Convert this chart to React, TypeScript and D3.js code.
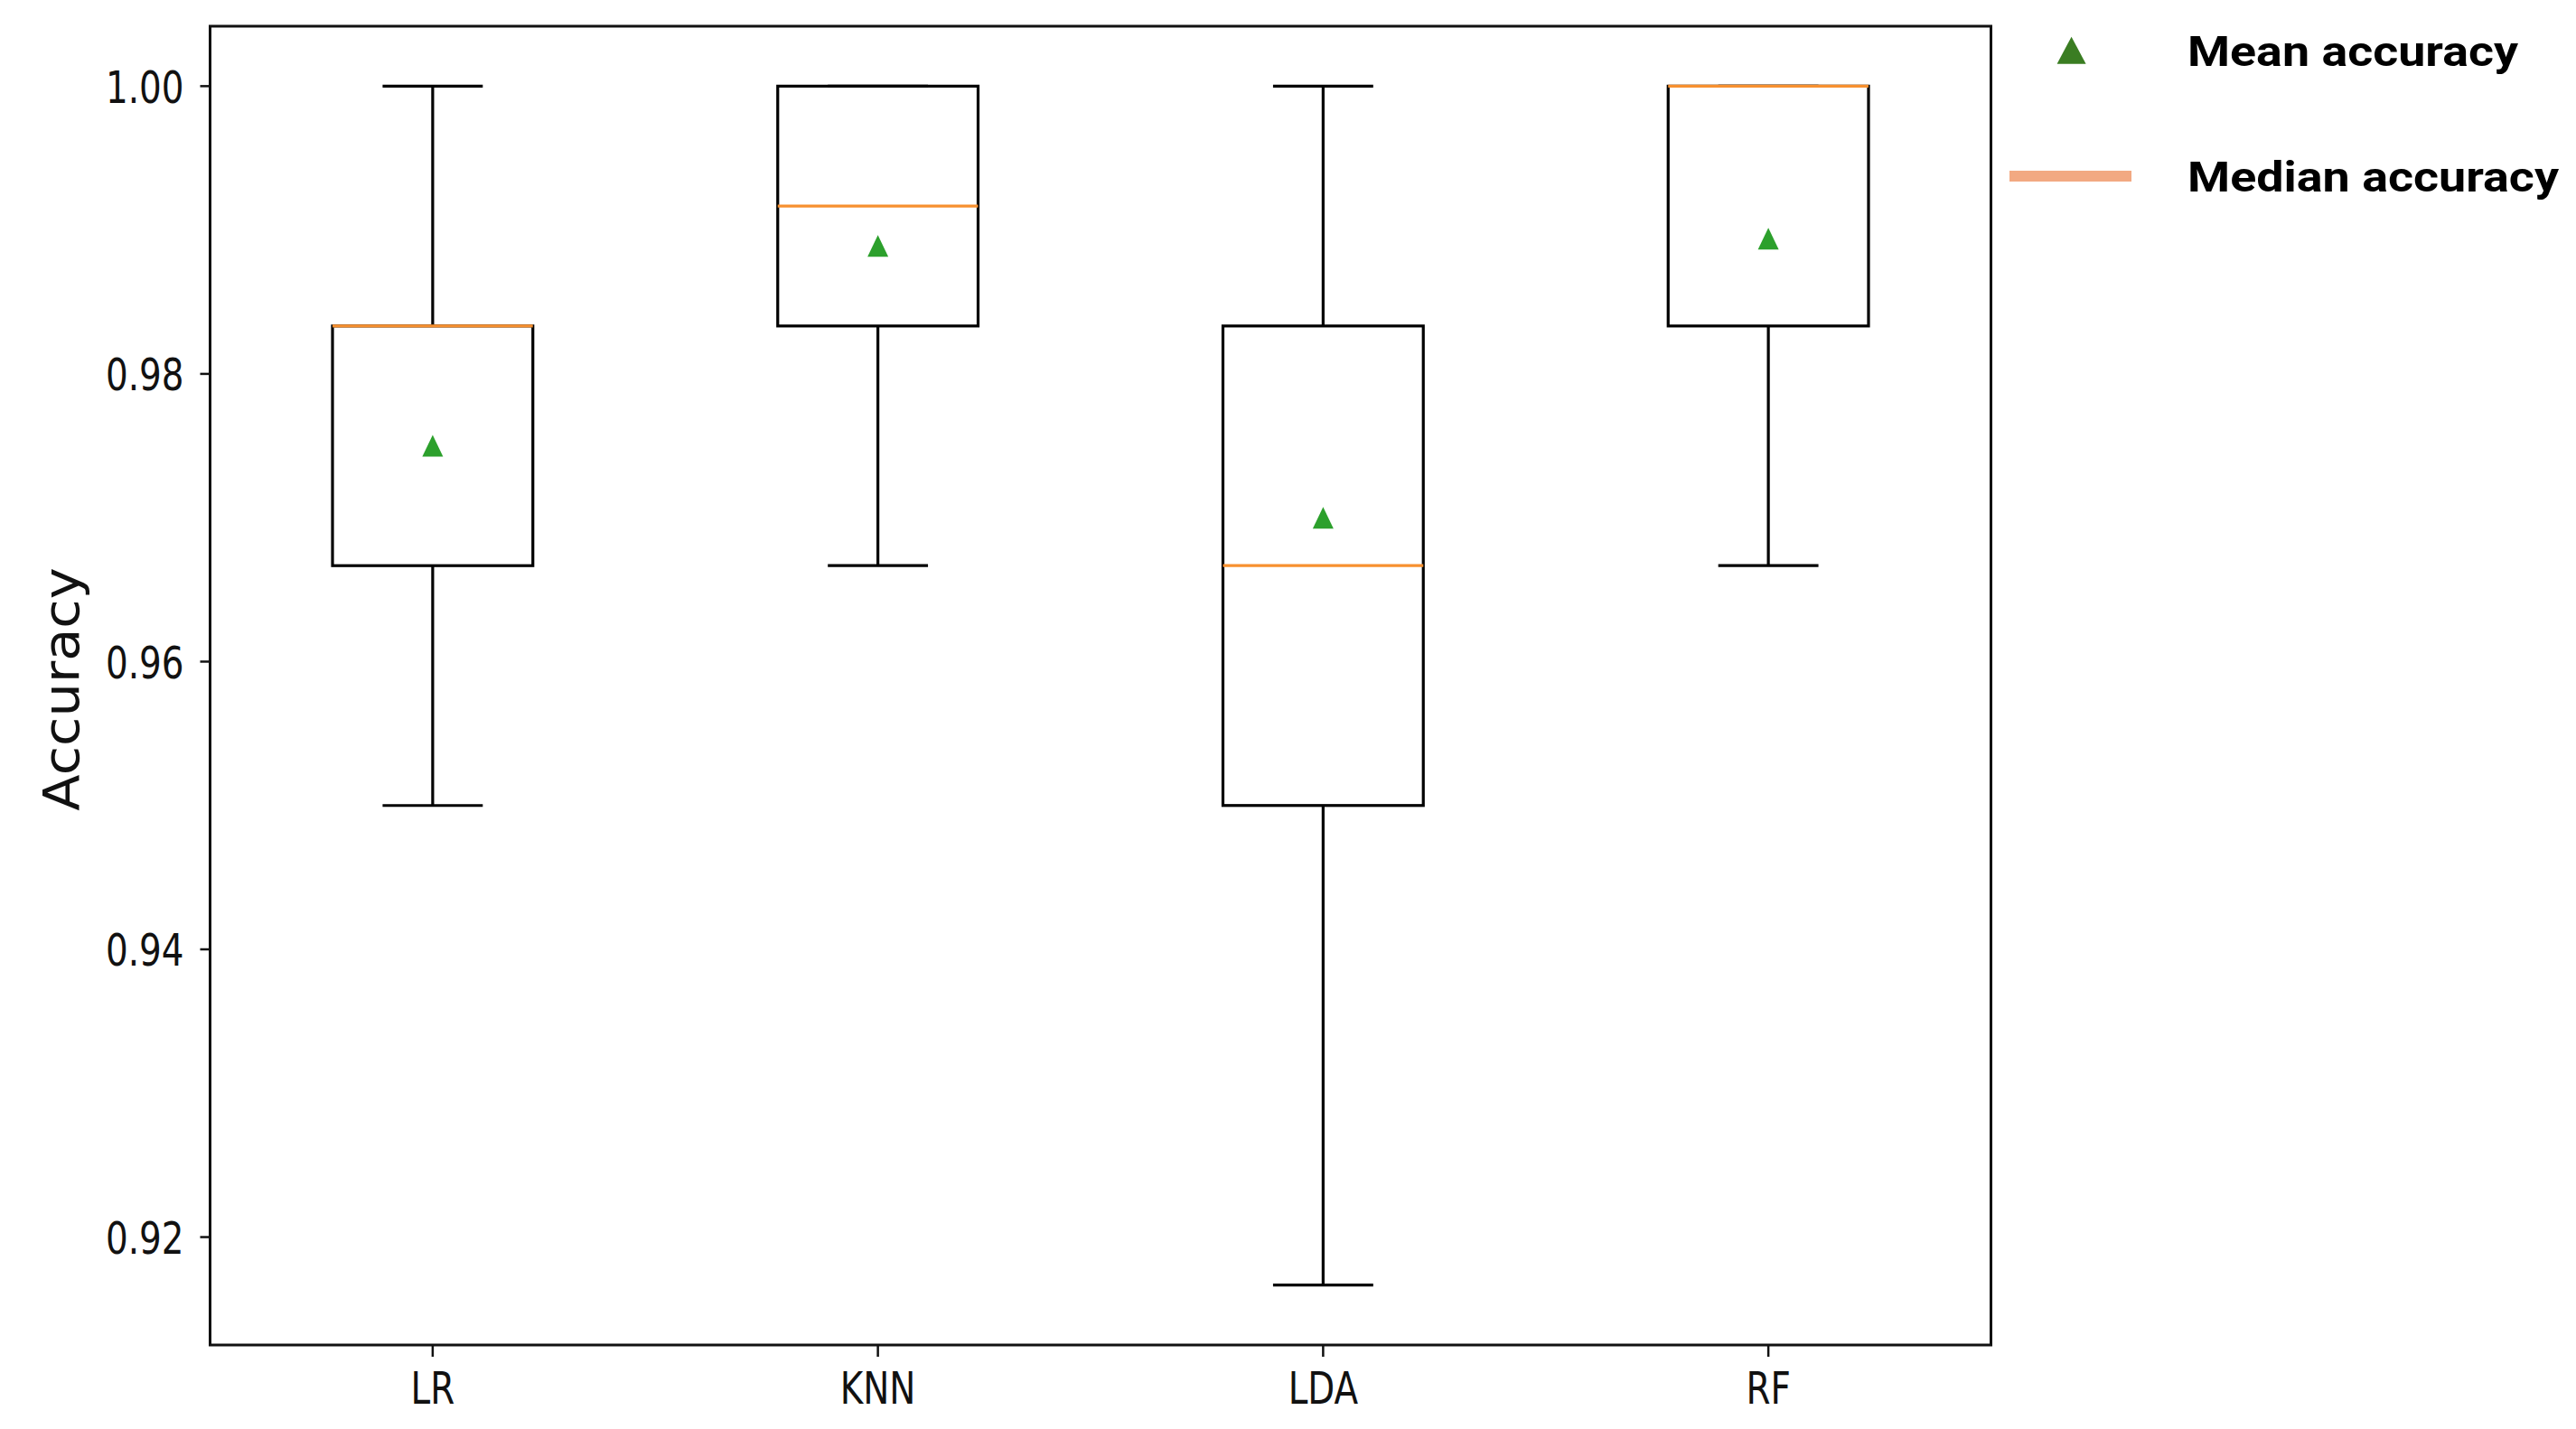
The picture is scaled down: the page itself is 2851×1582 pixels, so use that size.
import React from "react";
import * as d3 from "d3";

const categories = ["LR", "KNN", "LDA", "RF"];
const whiskerLow = [0.95, 0.96667, 0.91667, 0.96667];
const q1 = [0.96667, 0.98333, 0.95, 0.98333];
const median = [0.98333, 0.99167, 0.96667, 1.0];
const q3 = [0.98333, 1.0, 0.98333, 1.0];
const whiskerHigh = [1.0, 1.0, 1.0, 1.0];
const means = [0.975, 0.9889, 0.97, 0.9894];
const yTicks = [0.92, 0.94, 0.96, 0.98, 1.0];
const legendLabels = ["Mean accuracy", "Median accuracy"];
const yLabel = "Accuracy";

const W = 2851;
const H = 1582;
const left = 232.5;
const right = 2203.5;
const top = 29;
const bottom = 1489;

export default function App() {
  const x = d3.scalePoint<string>().domain(categories).range([left, right]).padding(0.5);
  const y = d3.scaleLinear().domain([0.9125, 1.004167]).range([bottom, top]);
  const step = x.step();
  const boxW = step * 0.45;
  const capW = boxW / 2;
  const lw = 3.2;
  const tri = (cx: number, cy: number, w: number, h: number) =>
    `M${cx},${cy - h / 2}L${cx + w / 2},${cy + h / 2}L${cx - w / 2},${cy + h / 2}Z`;
  const tickFont = 50.3;
  const sx = 0.773;

  return (
    <svg
      width={W}
      height={H}
      style={{ position: "absolute", left: 0, top: 0, background: "#fff" }}
      fontFamily="'DejaVu Sans', sans-serif"
    >
      <rect x={0} y={0} width={W} height={H} fill="#fff" />
      {categories.map((c, i) => {
        const cx = x(c)!;
        return (
          <g key={c}>
            {/* whiskers */}
            <line x1={cx} x2={cx} y1={y(q1[i])} y2={y(whiskerLow[i])} stroke="#000" strokeWidth={lw} />
            <line x1={cx} x2={cx} y1={y(q3[i])} y2={y(whiskerHigh[i])} stroke="#000" strokeWidth={lw} />
            {/* caps */}
            <line x1={cx - capW / 2} x2={cx + capW / 2} y1={y(whiskerLow[i])} y2={y(whiskerLow[i])} stroke="#000" strokeWidth={lw} />
            <line x1={cx - capW / 2} x2={cx + capW / 2} y1={y(whiskerHigh[i])} y2={y(whiskerHigh[i])} stroke="#000" strokeWidth={lw} />
            {/* box */}
            <rect
              x={cx - boxW / 2}
              y={y(q3[i])}
              width={boxW}
              height={y(q1[i]) - y(q3[i])}
              fill="none"
              stroke="#000"
              strokeWidth={lw}
            />
            {/* median */}
            <line x1={cx - boxW / 2} x2={cx + boxW / 2} y1={y(median[i])} y2={y(median[i])} stroke="#f7902f" strokeWidth={lw} />
            {/* mean */}
            <path d={tri(cx, y(means[i]), 23, 24)} fill="#2ca02c" />
          </g>
        );
      })}
      {/* frame */}
      <rect x={left} y={top} width={right - left} height={bottom - top} fill="none" stroke="#111" strokeWidth={3} />
      {/* y ticks */}
      {yTicks.map((t) => (
        <g key={t}>
          <line x1={left - 11} x2={left} y1={y(t)} y2={y(t)} stroke="#111" strokeWidth={2.5} />
          <text
            transform={`translate(${left - 29},${y(t) + 18.3}) scale(${sx},1)`}
            textAnchor="end"
            fontSize={tickFont}
            fill="#111"
          >
            {t.toFixed(2)}
          </text>
        </g>
      ))}
      {/* x ticks */}
      {categories.map((c) => (
        <g key={c}>
          <line x1={x(c)!} x2={x(c)!} y1={bottom} y2={bottom + 13} stroke="#111" strokeWidth={2.5} />
          <text
            transform={`translate(${x(c)!},${bottom + 64.5}) scale(${sx},1)`}
            textAnchor="middle"
            fontSize={tickFont}
            fill="#111"
          >
            {c}
          </text>
        </g>
      ))}
      {/* y label */}
      <text
        transform={`translate(87,763) rotate(-90) scale(1,0.93)`}
        textAnchor="middle"
        fontSize={59}
        fill="#111"
      >
        {yLabel}
      </text>
      {/* legend */}
      <path d={tri(2292.6, 55.7, 32, 30)} fill="#3a7d22" />
      <line x1={2224} x2={2359} y1={195} y2={195} stroke="#f2a982" strokeWidth={12} />
      <text
        x={2421}
        y={72.7}
        fontFamily="Roboto, sans-serif"
        fontWeight={700}
        fontSize={47}
        textLength={366}
        lengthAdjust="spacingAndGlyphs"
        fill="#000"
      >
        {legendLabels[0]}
      </text>
      <text
        x={2421}
        y={211.7}
        fontFamily="Roboto, sans-serif"
        fontWeight={700}
        fontSize={47}
        textLength={411}
        lengthAdjust="spacingAndGlyphs"
        fill="#000"
      >
        {legendLabels[1]}
      </text>
    </svg>
  );
}
